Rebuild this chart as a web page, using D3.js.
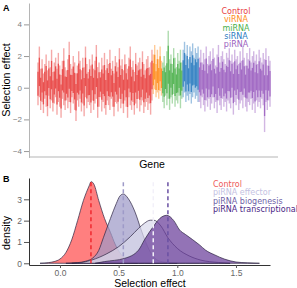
<!DOCTYPE html>
<html>
<head>
<meta charset="utf-8">
<script src="https://cdn.jsdelivr.net/npm/d3@7"></script>
<style>
body { margin: 0; background: #fff; }
</style>
</head>
<body>
<div id="root"></div>
<script>
// ---- panel A data: per-gene interval [lo, hi] of the selection effect ----
var controlGenes = [[-1.1,1.6],[-0.6,2.6],[-1.4,1.2],[-0.9,1.8],[-1.6,0.9],[-0.7,1.5],[-1.2,2.1],[-1.8,1.1],[-0.5,1.7],[-1.3,1.3],
[-0.8,2.4],[-1.5,1.0],[-1.0,1.6],[-0.6,1.9],[-1.7,1.2],[-0.9,2.2],[-1.2,1.4],[-1.9,0.8],[-0.7,1.7],[-1.1,2.5],
[-1.4,1.3],[-0.8,1.1],[-1.3,1.8],[-0.9,2.9],[-1.6,1.5],[-0.6,1.2],[-1.0,2.0],[-1.4,1.6],[-2.1,0.9],[-0.8,1.4],
[-1.2,2.3],[-0.7,1.7],[-1.5,1.1],[-1.0,1.9],[-1.8,1.3],[-0.6,2.6],[-1.3,1.5],[-0.9,1.0],[-1.1,1.8],[-1.6,1.4],
[-0.8,2.1],[-1.4,1.2],[-1.0,1.7],[-0.7,2.7],[-1.9,1.3],[-1.2,1.6],[-0.6,1.0],[-1.5,1.9],[-0.9,1.4],[-1.3,2.2],
[-1.7,1.1],[-0.8,1.8],[-1.1,1.5],[-1.4,2.4],[-0.7,1.2],[-1.2,1.7],[-1.8,0.9],[-0.9,2.0],[-1.0,1.6],[-1.5,1.3],
[-0.7,2.5],[-1.3,1.4],[-1.0,1.8],[-1.6,1.1],[-0.8,2.1],[-1.2,1.5],[-1.9,1.2],[-0.6,1.9],[-1.1,2.6],[-1.4,1.3],
[-0.9,1.7],[-1.7,1.0],[-1.0,2.2],[-1.3,1.4],[-0.7,1.6],[-1.5,1.9],[-1.1,1.2],[-0.8,2.3],[-1.6,1.5],[-1.2,1.1],
[-0.9,1.8],[-1.4,2.0],[-1.0,1.3],[-1.7,1.6],[-0.8,2.4]];
var viRNAGenes = [[-0.4,2.1],[-0.1,2.7],[-0.6,1.5],[-0.3,2.4],[-0.7,1.8],[-0.2,2.6],[-0.5,1.7]];
var miRNAGenes = [[-0.9,1.6],[-1.3,2.0],[-0.5,1.4],[-1.1,2.3],[-0.7,3.6],[-1.4,1.8],[-0.6,2.1],[-1.0,1.5],
[-0.4,2.5],[-1.2,1.9],[-0.8,1.3],[-1.0,2.2],[-0.5,1.7],[-1.3,2.4],[-0.7,1.6]];
var siRNAGenes = [[-0.6,2.4],[-0.3,2.9],[-0.9,2.1],[-0.5,2.7],[-0.8,1.8],[-0.4,2.6],[-1.0,2.3],[-0.6,2.8],
[-0.3,1.9],[-0.7,2.5],[-0.5,2.2],[-0.9,2.6]];
var piRNAGenes = [[-0.9,1.9],[-1.3,2.4],[-0.6,1.6],[-1.1,2.2],[-1.5,1.8],[-0.8,2.6],[-1.2,1.5],[-0.7,2.0],[-1.4,2.3],[-1.0,1.7],
[-0.6,2.5],[-1.3,1.9],[-0.9,1.4],[-1.6,2.1],[-0.8,2.7],[-1.1,1.6],[-1.4,2.0],[-0.7,2.3],[-1.2,1.8],[-0.9,1.5],
[-1.5,2.2],[-0.8,1.9],[-1.0,2.5],[-1.3,1.7],[-0.6,2.1],[-1.7,1.6],[-0.9,2.4],[-1.1,1.8],[-0.7,2.0],[-1.4,1.5],
[-1.0,2.3],[-0.8,1.7],[-1.3,2.6],[-0.6,1.9],[-1.2,1.4],[-1.5,2.2],[-0.9,1.8],[-1.1,2.5],[-0.7,1.6],[-1.4,2.0],
[-1.0,2.3],[-1.6,1.7],[-0.8,2.1],[-1.2,1.5],[-0.9,2.4],[-1.3,1.9],[-0.7,1.6],[-1.1,2.2],[-2.8,1.8],[-0.9,2.5],
[-1.4,1.4],[-0.8,2.0],[-1.2,1.7]];

var groupNames = ["Control", "viRNA", "miRNA", "siRNA", "piRNA"];
var groupColors = ["#e8413f", "#ff8c1a", "#4bb04b", "#2a7bbf", "#9b5fc0"];
var yTicksA = [-4, -2, 0, 2, 4];

// ---- panel B data: density curves, [selection effect, density] ----
var densControl = [[-0.17,0],[-0.1,0.03],[-0.05,0.08],[0,0.2],[0.05,0.5],[0.1,1.1],[0.15,2.0],[0.2,2.95],[0.25,3.65],
[0.265,3.83],[0.29,3.7],[0.33,2.95],[0.38,2.1],[0.43,1.45],[0.47,0.9],[0.51,0.5],[0.56,0.2],[0.61,0.06],[0.66,0]];
var densEffector = [[0.05,0],[0.15,0.03],[0.22,0.1],[0.28,0.25],[0.33,0.6],[0.37,1.2],[0.43,2.1],[0.48,2.8],[0.51,3.15],
[0.54,3.25],[0.58,3.05],[0.64,2.4],[0.69,1.6],[0.73,1.0],[0.79,0.35],[0.85,0.1],[0.95,0.02],[1.0,0]];
var densBiogenesis = [[0.1,0],[0.2,0.05],[0.27,0.15],[0.4,0.45],[0.5,0.78],[0.6,1.25],[0.67,1.64],[0.72,1.88],
[0.77,2.02],[0.8,2.02],[0.86,1.75],[0.92,1.2],[1.0,0.7],[1.1,0.35],[1.2,0.15],[1.35,0.04],[1.45,0]];
var densTranscr = [[0.3,0],[0.38,0.08],[0.55,0.23],[0.67,0.62],[0.72,1.1],[0.795,1.72],[0.85,2.1],[0.91,2.25],
[0.97,2.0],[1.02,1.56],[1.07,1.35],[1.19,0.86],[1.24,0.62],[1.32,0.39],[1.4,0.2],[1.5,0.06],[1.6,0.02],[1.7,0]];

var densNames = ["Control", "piRNA effector", "piRNA biogenesis", "piRNA transcriptional"];
var densMeans = [0.264, 0.54, 0.795, 0.92];
var densFill = ["#ff4d4d", "#9e9ac8", "#dadaeb", "#6a3d9a"];
var dashColors = ["#f0282e", "#9e9ac8", "#f2f0f9", "#6a51a3"];
var legendColorsB = ["#ee5a5a", "#c4c2e2", "#6e5fa6", "#4a1f86"];
var xTicksB = [0, 0.5, 1, 1.5];
var yTicksB = [0, 1, 2, 3];

var width = 297;
var height = 288;

var svg = d3.select("#root")
.append("svg")
.attr("width", width)
.attr("height", height)
.style("font-family", "'Liberation Sans', Arial, sans-serif");

/* ================= panel A ================= */
var groups = [controlGenes, viRNAGenes, miRNAGenes, siRNAGenes, piRNAGenes];
var genes = [];
groups.forEach(function(g, gi) {
	g.forEach(function(d) {
		genes.push({group: gi, lo: d[0], hi: d[1]});
	});
});

var xA = d3.scaleLinear()
.domain([0, genes.length - 1])
.range([38, 270]);

var yA = d3.scaleLinear()
.domain([-4.4, 5.35])
.range([157.4, 3]);

var gA = svg.append("g");

// outer (light) part of each interval
gA.append("g")
.selectAll("line")
.data(genes)
.enter()
.append("line")
.attr("x1", function(d, i) { return xA(i); })
.attr("x2", function(d, i) { return xA(i); })
.attr("y1", function(d) { return yA(d.lo); })
.attr("y2", function(d) { return yA(d.hi); })
.attr("stroke", function(d) { return groupColors[d.group]; })
.attr("stroke-opacity", 0.45)
.attr("stroke-width", 1.4);

// inner (dark) part of each interval
gA.append("g")
.selectAll("line")
.data(genes)
.enter()
.append("line")
.attr("x1", function(d, i) { return xA(i); })
.attr("x2", function(d, i) { return xA(i); })
.attr("y1", function(d) { return yA(d.lo + 0.22 * (d.hi - d.lo)); })
.attr("y2", function(d) { return yA(d.hi - 0.22 * (d.hi - d.lo)); })
.attr("stroke", function(d) { return groupColors[d.group]; })
.attr("stroke-opacity", 0.85)
.attr("stroke-width", 1.3);

var axisA = gA.append("g")
.attr("transform", "translate(29,0)")
.call(d3.axisLeft(yA).tickValues(yTicksA).tickFormat(d3.format("d")).tickSize(5).tickSizeOuter(0).tickPadding(2));
axisA.select(".domain").attr("stroke", "#b5b5b5");
axisA.selectAll(".tick line").attr("stroke", "#999");
axisA.selectAll(".tick text").attr("fill", "#808080").style("font-size", "8px");

gA.append("line")
.attr("x1", 29).attr("x2", 278)
.attr("y1", 157).attr("y2", 157)
.attr("stroke", "#b5b5b5");

gA.append("text")
.attr("transform", "translate(9.5,80) rotate(-90)")
.attr("text-anchor", "middle")
.style("font-size", "10.8px")
.text("Selection effect");

gA.append("text")
.attr("x", 152).attr("y", 167.5)
.attr("text-anchor", "middle")
.style("font-size", "10.5px")
.text("Gene");

gA.append("text")
.attr("x", 3).attr("y", 11)
.style("font-size", "9px")
.style("font-weight", "bold")
.text("A");

// legend A
gA.append("g")
.selectAll("text")
.data(groupNames)
.enter()
.append("text")
.attr("x", 236)
.attr("y", function(d, i) { return 14 + i * 8.25; })
.attr("text-anchor", "middle")
.attr("fill", function(d, i) { return groupColors[i]; })
.style("font-family", "'DejaVu Sans', sans-serif")
.style("font-size", "8px")
.text(function(d) { return d; });

/* ================= panel B ================= */
var xB = d3.scaleLinear()
.domain([-0.264, 1.79])
.range([29, 270]);

var yB = d3.scaleLinear()
.domain([-0.08, 4.0])
.range([265, 178]);

var gB = svg.append("g");

var area = d3.area()
.x(function(d) { return xB(d[0]); })
.y0(yB(0))
.y1(function(d) { return yB(d[1]); })
.curve(d3.curveMonotoneX);

var dens = [densControl, densEffector, densBiogenesis, densTranscr];

gB.append("g")
.selectAll("path")
.data(dens)
.enter()
.append("path")
.attr("d", area)
.attr("fill", function(d, i) { return densFill[i]; })
.attr("fill-opacity", 0.72)
.attr("stroke", "#2b2240")
.attr("stroke-width", 0.7);

// dashed mean lines
gB.append("g")
.selectAll("line")
.data(densMeans)
.enter()
.append("line")
.attr("x1", function(d) { return xB(d); })
.attr("x2", function(d) { return xB(d); })
.attr("y1", yB(0))
.attr("y2", yB(3.92))
.attr("stroke", function(d, i) { return dashColors[i]; })
.attr("stroke-width", 1.5)
.attr("stroke-dasharray", "4,3");

var axisBy = gB.append("g")
.attr("transform", "translate(29,0)")
.call(d3.axisLeft(yB).tickValues(yTicksB).tickFormat(d3.format("d")).tickSize(5).tickSizeOuter(0).tickPadding(2));
axisBy.select(".domain").attr("stroke", "#333");
axisBy.selectAll(".tick line").attr("stroke", "#555");
axisBy.selectAll(".tick text").attr("fill", "#666").style("font-size", "8.5px");

var axisBx = gB.append("g")
.attr("transform", "translate(0,265)")
.call(d3.axisBottom(xB).tickValues(xTicksB).tickFormat(d3.format(".1f")).tickSize(3).tickSizeOuter(0).tickPadding(2));
axisBx.select(".domain").attr("stroke", "#333");
axisBx.selectAll(".tick line").attr("stroke", "#555");
axisBx.selectAll(".tick text").attr("fill", "#666").style("font-size", "8.5px");

gB.append("text")
.attr("transform", "translate(9.5,233) rotate(-90)")
.attr("text-anchor", "middle")
.style("font-size", "10.8px")
.text("density");

gB.append("text")
.attr("x", 150).attr("y", 287)
.attr("text-anchor", "middle")
.style("font-size", "10.5px")
.text("Selection effect");

gB.append("text")
.attr("x", 3).attr("y", 182)
.style("font-size", "9px")
.style("font-weight", "bold")
.text("B");

// legend B (last entry runs past the right edge, as in the original)
gB.append("g")
.selectAll("text")
.data(densNames)
.enter()
.append("text")
.attr("x", 213)
.attr("y", function(d, i) { return 186.5 + i * 8.5; })
.attr("fill", function(d, i) { return legendColorsB[i]; })
.style("font-family", "'DejaVu Sans', sans-serif")
.style("font-size", "8px")
.text(function(d) { return d; });
</script>
</body>
</html>
